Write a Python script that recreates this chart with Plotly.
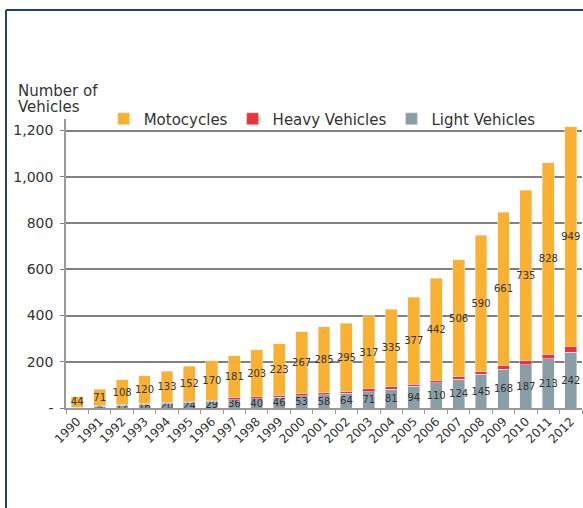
import plotly.graph_objects as go

# anos e séries
years = [str(y) for y in range(1990, 2013)]
light = [3, 8, 12, 16, 20, 24, 29, 36, 40, 46, 53, 58, 64, 71, 81, 94, 110, 124, 145, 168, 187, 213, 242]
heavy = [1, 3, 3, 3, 5, 5, 5, 10, 8, 10, 9, 8, 8, 12, 12, 9, 9, 12, 13, 18, 20, 20, 25]
moto = [44, 71, 108, 120, 133, 152, 170, 181, 203, 223, 267, 285, 295, 317, 335, 377, 442, 506, 590, 661, 735, 828, 949]

ytick_vals = [0, 200, 400, 600, 800, 1000, 1200]
ytick_text = ["-", "200", "400", "600", "800", "1,000", "1,200"]

FONT = "DejaVu Sans"

fig = go.Figure()

fig.add_trace(go.Bar(
    x=years, y=light, name="Light Vehicles",
    marker_color="#8A9EA6",
    text=light, textposition="inside", insidetextanchor="middle",
    textangle=0, constraintext="none",
    textfont=dict(size=10, color="#333333", family=FONT),
))

fig.add_trace(go.Bar(
    x=years, y=heavy, name="Heavy Vehicles",
    marker_color="#EE3338",
))

fig.add_trace(go.Bar(
    x=years, y=moto, name="Motocycles",
    marker_color="#FAB130",
    text=moto, textposition="inside", insidetextanchor="middle",
    textangle=0, constraintext="none",
    textfont=dict(size=10, color="#333333", family=FONT),
))

fig.update_layout(
    width=583, height=508,
    margin=dict(l=66, r=1, t=119, b=100),
    barmode="stack",
    bargap=0.47,
    plot_bgcolor="white",
    paper_bgcolor="white",
    font=dict(family=FONT, color="#333333"),
    uniformtext_minsize=10,
    uniformtext_mode="show",
    showlegend=True,
)

fig.update_layout(
    legend=dict(
        orientation="h",
        traceorder="reversed",
        x=0.073, y=1.0,
        xanchor="left", yanchor="middle",
        font=dict(size=15, color="#333333"),
        bgcolor="rgba(0,0,0,0)",
        itemwidth=30,
    )
)

fig.update_xaxes(
    tickangle=-45,
    tickfont=dict(size=12, color="#333333"),
    showline=True, linecolor="#999999", linewidth=1.5,
    ticks="outside", tickson="boundaries", ticklen=4, tickcolor="#999999",
    showgrid=False,
)

fig.update_yaxes(
    range=[0, 1250],
    tickvals=ytick_vals, ticktext=ytick_text,
    tickfont=dict(size=14, color="#333333"),
    ticklabelstandoff=4,
    showline=True, linecolor="#999999", linewidth=1.5,
    ticks="outside", ticklen=4, tickcolor="#808080",
    showgrid=True, gridcolor="#808080", gridwidth=1.5,
    zeroline=False,
)

# título do eixo y (duas linhas mais juntas)
fig.add_annotation(
    text="Number of",
    xref="paper", yref="paper",
    x=-0.097, y=1.097, xanchor="left", yanchor="middle",
    height=15,
    showarrow=False, font=dict(size=15, color="#333333"),
)
fig.add_annotation(
    text="Vehicles",
    xref="paper", yref="paper",
    x=-0.097, y=1.042, xanchor="left", yanchor="middle",
    height=15,
    showarrow=False, font=dict(size=15, color="#333333"),
)

# moldura azul escura (esquerda e topo)
fig.add_shape(type="line", xref="paper", yref="paper",
              x0=-0.1163, x1=-0.1163, y0=1.377, y1=-0.4,
              line=dict(color="#24425F", width=2))
fig.add_shape(type="line", xref="paper", yref="paper",
              x0=-0.1163, x1=1.1, y0=1.377, y1=1.377,
              line=dict(color="#24425F", width=2))

# tira a margem padrão do body para a figura ocupar a janela toda
fig.write_html(
    "out.html",
    config={"displayModeBar": False},
    post_script="document.body.style.margin = '0';",
)
